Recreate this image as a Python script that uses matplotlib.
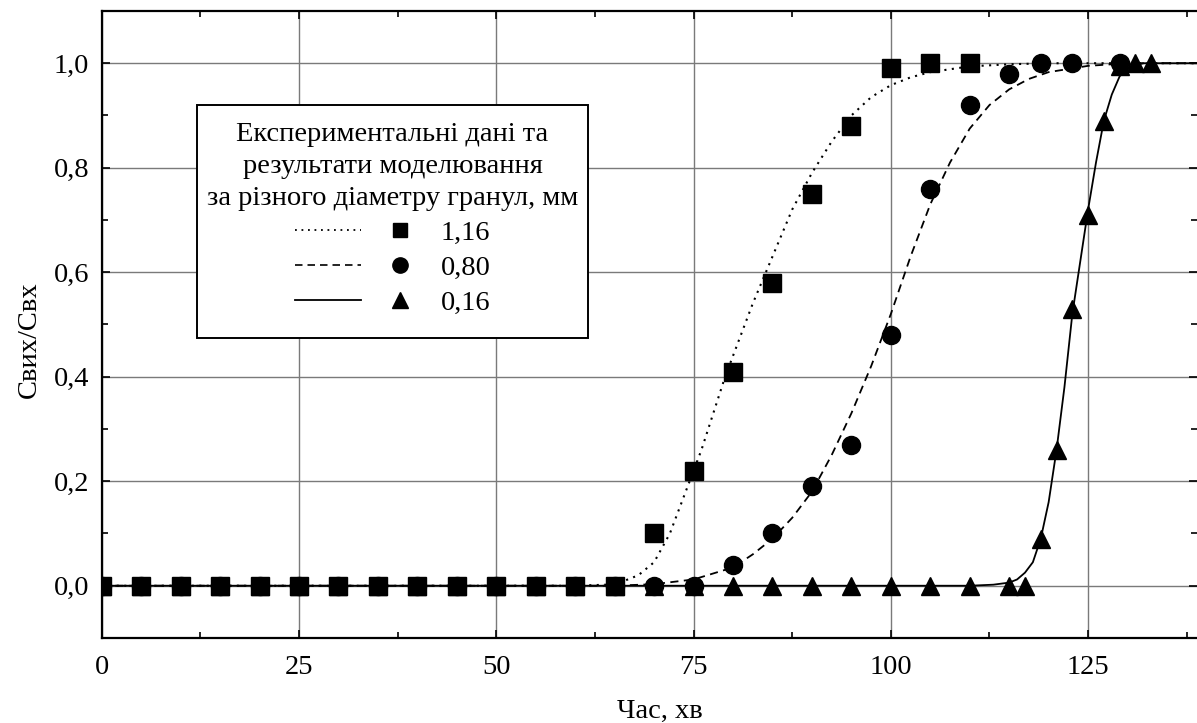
import matplotlib
matplotlib.use("Agg")
import matplotlib.pyplot as plt
from matplotlib.lines import Line2D
from matplotlib.patches import Rectangle
from matplotlib.legend_handler import HandlerTuple
from matplotlib.ticker import MultipleLocator, FuncFormatter

plt.rcParams['font.family'] = ['Liberation Serif', 'DejaVu Serif']

# experimental points
x_116 = [0, 5, 10, 15, 20, 25, 30, 35, 40, 45, 50, 55, 60, 65, 70, 75, 80, 85, 90, 95, 100, 105, 110]
y_116 = [0, 0, 0, 0, 0, 0, 0, 0, 0, 0, 0, 0, 0, 0, 0.10, 0.22, 0.41, 0.58, 0.75, 0.88, 0.99, 1.0, 1.0]

x_080 = [0, 5, 10, 15, 20, 25, 30, 35, 40, 45, 50, 55, 60, 65, 70, 75, 80, 85, 90, 95, 100, 105, 110, 115, 119, 123, 129]
y_080 = [0, 0, 0, 0, 0, 0, 0, 0, 0, 0, 0, 0, 0, 0, 0, 0, 0.04, 0.10, 0.19, 0.27, 0.48, 0.76, 0.92, 0.98, 1.0, 1.0, 1.0]

x_016 = [0, 5, 10, 15, 20, 25, 30, 35, 40, 45, 50, 55, 60, 65, 70, 75, 80, 85, 90, 95, 100, 105, 110,
         115, 117, 119, 121, 123, 125, 127, 129, 131, 133]
y_016 = [0, 0, 0, 0, 0, 0, 0, 0, 0, 0, 0, 0, 0, 0, 0, 0, 0, 0, 0, 0, 0, 0, 0,
         0, 0, 0.09, 0.26, 0.53, 0.71, 0.89, 0.995, 1.0, 1.0]

# model curves
cx_116 = [0, 60, 64, 66, 68, 70, 72, 74, 75, 76, 77.5, 79, 80, 82.5, 85, 87.5, 90, 92.5, 95, 97.5, 100, 102.5, 105, 110, 115, 120, 145]
cy_116 = [0, 0, 0.002, 0.008, 0.02, 0.045, 0.10, 0.18, 0.22, 0.26, 0.33, 0.40, 0.44, 0.54, 0.63, 0.72, 0.79, 0.85, 0.90, 0.935, 0.958, 0.973, 0.983, 0.994, 0.998, 1.0, 1.0]

cx_080 = [0, 65, 70, 75, 80, 82.5, 85, 87.5, 90, 92.5, 95, 97.5, 100, 102.5, 105, 107.5, 110, 112.5, 115, 117.5, 120, 125, 130, 145]
cy_080 = [0, 0, 0.003, 0.012, 0.035, 0.06, 0.09, 0.13, 0.18, 0.25, 0.33, 0.42, 0.52, 0.63, 0.73, 0.81, 0.875, 0.92, 0.95, 0.97, 0.983, 0.995, 1.0, 1.0]

cx_016 = [0, 110, 113, 115, 116, 117, 118, 119, 120, 121, 122, 123, 124, 125, 126, 127, 128, 129, 130, 131, 132, 134, 145]
cy_016 = [0, 0, 0.002, 0.006, 0.012, 0.025, 0.045, 0.09, 0.16, 0.26, 0.38, 0.52, 0.62, 0.72, 0.81, 0.89, 0.94, 0.975, 0.99, 0.996, 1.0, 1.0, 1.0]

legend_title = "Експериментальні дані та\nрезультати моделювання\nза різного діаметру гранул, мм"
labels = ["1,16", "0,80", "0,16"]
x_ticks = [0, 25, 50, 75, 100, 125]
y_ticks = [0.0, 0.2, 0.4, 0.6, 0.8, 1.0]

FS = 20.5

fig = plt.figure(figsize=(11.97, 7.23), dpi=100)
ax = fig.add_axes([0.085, 0.1176, 0.915, 0.8672])

dotted = (0, (1, 2.6))
dashed = (0, (4.5, 3))

ax.plot(cx_116, cy_116, color='black', lw=1.5, linestyle=dotted, zorder=3)
ax.plot(cx_080, cy_080, color='black', lw=1.3, linestyle=dashed, zorder=3)
ax.plot(cx_016, cy_016, color='black', lw=1.3, linestyle='-', zorder=3)

ax.plot(x_116, y_116, 's', color='black', ms=12.5, linestyle='none', zorder=4)
ax.plot(x_080, y_080, 'o', color='black', ms=13, linestyle='none', zorder=5)
ax.plot(x_016, y_016, '^', color='black', ms=13.5, linestyle='none', zorder=6)

ax.set_xlim(0, 138.8)
ax.set_ylim(-0.1, 1.1)
ax.set_xticks(x_ticks)
ax.set_yticks(y_ticks)
ax.xaxis.set_minor_locator(MultipleLocator(12.5))
ax.yaxis.set_minor_locator(MultipleLocator(0.1))
ax.yaxis.set_major_formatter(FuncFormatter(lambda v, p: f"{v:.1f}".replace('.', ',')))
ax.tick_params(which='both', direction='in', top=True, right=True, labelsize=FS)
ax.tick_params(which='major', length=6, width=1.2)
ax.tick_params(which='minor', length=4, width=1.2)
ax.tick_params(axis='x', which='major', pad=12)
ax.tick_params(axis='y', which='major', pad=9)
ax.grid(True, which='major', color='#7a7a7a', lw=1.0)
ax.set_axisbelow(True)
for s in ['left', 'bottom', 'top']:
    ax.spines[s].set_linewidth(1.6)
ax.spines['right'].set_visible(False)

ax.set_xlabel("Час, хв", fontsize=FS)
ax.xaxis.set_label_coords(0.51, -0.097)
ax.set_ylabel("Свих/Свх", fontsize=FS)
ax.yaxis.set_label_coords(-0.0545, 0.475)

# legend box drawn separately so its padding matches the original
box = Rectangle((0.087, 0.4785), 0.357, 0.3716, transform=ax.transAxes,
                facecolor='white', edgecolor='black', lw=1.4, zorder=9)
ax.add_patch(box)

styles = [(dotted, 's', 1.3, 10), (dashed, 'o', 1.2, 11), ('-', '^', 1.3, 11.5)]
handles = []
for ls, mk, lw, ms in styles:
    ln = Line2D([], [], color='black', linestyle=ls, lw=lw)
    mkh = Line2D([], [], color='black', marker=mk, ms=ms, linestyle='none')
    handles.append((ln, mkh))

leg = ax.legend(handles, labels, title=legend_title, loc='upper center',
                bbox_to_anchor=(0.2655, 0.850), fontsize=FS, title_fontsize=FS,
                handler_map={tuple: HandlerTuple(ndivide=None, pad=0.21)},
                handlelength=4.84, handletextpad=0.28, labelspacing=0.32,
                borderpad=0.58, borderaxespad=0.0, alignment='center', frameon=False)
leg.get_title().set_multialignment('center')
leg.get_title().set_linespacing(1.37)
leg.set_zorder(10)

fig.savefig("out.png", dpi=100)
